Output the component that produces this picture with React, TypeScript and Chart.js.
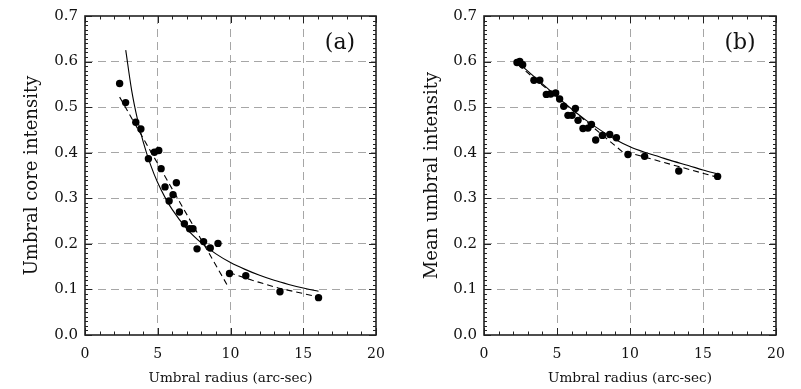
import React, { useEffect, useRef } from "react";
import { Chart, registerables } from "chart.js";

Chart.register(...registerables);

// ---------- axes ----------
const xTickValues = [0, 5, 10, 15, 20];
const yTickValues = [0, 0.1, 0.2, 0.3, 0.4, 0.5, 0.6, 0.7];
const xTitle = "Umbral radius (arc-sec)";
const yTitleA = "Umbral core intensity";
const yTitleB = "Mean umbral intensity";
const panelLabelA = "(a)";
const panelLabelB = "(b)";

// ---------- panel (a): umbral core intensity ----------
const radiusA = [2.38, 2.79, 3.49, 3.84, 4.36, 4.77, 5.07, 5.23, 5.5, 5.78, 6.05, 6.28, 6.49, 6.83, 7.19, 7.42, 7.7, 8.15, 8.61, 9.14, 9.93, 11.05, 13.4, 16.05];
const coreA = [0.552, 0.51, 0.467, 0.452, 0.387, 0.401, 0.405, 0.365, 0.325, 0.294, 0.308, 0.334, 0.27, 0.244, 0.233, 0.233, 0.189, 0.205, 0.191, 0.201, 0.135, 0.13, 0.095, 0.082];
const fitRadiusA = [2.8, 3.2, 3.6, 4, 4.5, 5, 5.5, 6, 7, 8, 9, 10, 11, 12, 13, 14, 15, 16.05];
const fitCoreA = [0.625, 0.538, 0.474, 0.424, 0.374, 0.334, 0.302, 0.275, 0.233, 0.202, 0.178, 0.159, 0.144, 0.131, 0.12, 0.111, 0.103, 0.096];
const dashInnerRadiusA = [2.38, 9.75];
const dashInnerCoreA = [0.522, 0.111];
const dashOuterRadiusA = [9.9, 11.5, 13.3, 16.1];
const dashOuterCoreA = [0.137, 0.12, 0.103, 0.083];

// ---------- panel (b): mean umbral intensity ----------
const radiusB = [2.26, 2.45, 2.65, 3.42, 3.82, 4.27, 4.57, 4.91, 5.18, 5.46, 5.75, 6.03, 6.26, 6.44, 6.78, 7.12, 7.36, 7.65, 8.11, 8.61, 9.07, 9.86, 11.0, 13.34, 16.0];
const meanB = [0.598, 0.6, 0.593, 0.559, 0.559, 0.528, 0.529, 0.531, 0.518, 0.502, 0.482, 0.482, 0.497, 0.471, 0.453, 0.454, 0.462, 0.428, 0.438, 0.44, 0.433, 0.396, 0.392, 0.36, 0.348];
const fitRadiusB = [2.15, 3, 4, 5, 6, 7, 8, 9, 10, 11, 12, 13, 14, 15, 16.05];
const fitMeanB = [0.603, 0.579, 0.551, 0.523, 0.496, 0.471, 0.449, 0.429, 0.413, 0.401, 0.391, 0.381, 0.372, 0.362, 0.353];
const dashInnerRadiusB = [2.33, 9.52];
const dashInnerMeanB = [0.593, 0.401];
const dashOuterRadiusB = [9.7, 16.0];
const dashOuterMeanB = [0.402, 0.346];

const FONT = '"DejaVu Serif", "Liberation Serif", serif';
const INK = "#111";
const GRID = "#a6a6a6";

const pts = (xs: number[], ys: number[]) => xs.map((x, i) => ({ x, y: ys[i] }));

const frameTicks = {
  id: "frameTicks",
  afterDraw(chart: any, _args: any, opts: any) {
    const { ctx, chartArea, scales } = chart;
    const { left, right, top, bottom } = chartArea;
    const xs = scales.x;
    const ys = scales.y;
    ctx.save();
    ctx.strokeStyle = "#222";
    ctx.lineWidth = 1;
    ctx.setLineDash([]);
    ctx.beginPath();
    for (let v = 0; v <= 20; v++) {
      const px = Math.round(xs.getPixelForValue(v)) + 0.5;
      const len = v % 5 === 0 ? 7 : 3.5;
      ctx.moveTo(px, bottom);
      ctx.lineTo(px, bottom - len);
      ctx.moveTo(px, top);
      ctx.lineTo(px, top + len);
    }
    for (let i = 0; i <= 70; i++) {
      const py = Math.round(ys.getPixelForValue(i / 100)) + 0.5;
      const len = i % 10 === 0 ? 7 : 3;
      ctx.moveTo(left, py);
      ctx.lineTo(left + len, py);
      ctx.moveTo(right, py);
      ctx.lineTo(right - len, py);
    }
    ctx.stroke();
    ctx.lineWidth = 1.6;
    ctx.strokeRect(left, top, right - left, bottom - top);
    ctx.fillStyle = INK;
    ctx.font = `22px ${FONT}`;
    ctx.textAlign = "center";
    ctx.textBaseline = "middle";
    ctx.fillText(opts.text, right - 36, top + 27);
    ctx.restore();
  },
};

type PanelProps = {
  left: number;
  width: number;
  axisWidth: number;
  padRight: number;
  yTitle: string;
  label: string;
  radius: number[];
  values: number[];
  fitR: number[];
  fitV: number[];
  dInR: number[];
  dInV: number[];
  dOutR: number[];
  dOutV: number[];
};

function Panel(p: PanelProps) {
  const ref = useRef<HTMLCanvasElement | null>(null);
  useEffect(() => {
    if (!ref.current) return;
    const chart = new Chart(ref.current, {
      type: "scatter",
      data: {
        datasets: [
          {
            data: pts(p.radius, p.values),
            pointRadius: 3.7,
            pointBackgroundColor: "#000",
            pointBorderWidth: 0,
            showLine: false,
          },
          {
            data: pts(p.fitR, p.fitV),
            showLine: true,
            pointRadius: 0,
            borderColor: "#000",
            borderWidth: 1.1,
            cubicInterpolationMode: "monotone",
          },
          {
            data: pts(p.dInR, p.dInV),
            showLine: true,
            pointRadius: 0,
            borderColor: "#000",
            borderWidth: 1.1,
            borderDash: [6, 4],
          },
          {
            data: pts(p.dOutR, p.dOutV),
            showLine: true,
            pointRadius: 0,
            borderColor: "#000",
            borderWidth: 1.1,
            borderDash: [6, 4],
          },
        ],
      } as any,
      options: {
        animation: false,
        responsive: false,
        maintainAspectRatio: false,
        layout: { padding: { top: 6, right: p.padRight, left: 0, bottom: 0 } },
        plugins: {
          legend: { display: false },
          tooltip: { enabled: false },
          frameTicks: { text: p.label },
        } as any,
        scales: {
          x: {
            type: "linear",
            min: 0,
            max: 20,
            afterBuildTicks: (s: any) => {
              s.ticks = xTickValues.map((value) => ({ value }));
            },
            afterFit: (s: any) => {
              s.height = 54;
            },
            grid: {
              drawTicks: false,
              lineWidth: 1,
              color: (c: any) =>
                c.tick && (c.tick.value <= 0 || c.tick.value >= 20) ? "rgba(0,0,0,0)" : GRID,
            },
            border: { display: false, dash: [8, 5] },
            ticks: {
              padding: 11,
              color: INK,
              font: { family: FONT, size: 14 },
              maxRotation: 0,
              autoSkip: false,
              callback: (v: any) => String(v),
            },
            title: {
              display: true,
              text: xTitle,
              color: INK,
              font: { family: FONT, size: 13.6 },
              padding: { top: 0, bottom: 2 },
            },
          },
          y: {
            type: "linear",
            min: 0,
            max: 0.7,
            afterBuildTicks: (s: any) => {
              s.ticks = yTickValues.map((value) => ({ value }));
            },
            afterFit: (s: any) => {
              s.width = p.axisWidth;
            },
            grid: {
              drawTicks: false,
              lineWidth: 1,
              color: (c: any) =>
                c.tick && (c.tick.value <= 0.001 || c.tick.value >= 0.699) ? "rgba(0,0,0,0)" : GRID,
            },
            border: { display: false, dash: [8, 5] },
            ticks: {
              padding: 7,
              color: INK,
              font: { family: FONT, size: 15 },
              autoSkip: false,
              callback: (v: any) => Number(v).toFixed(1),
            },
            title: {
              display: true,
              text: p.yTitle,
              color: INK,
              font: { family: FONT, size: 18 },
              padding: { top: 22, bottom: 0 },
            },
          },
        },
      } as any,
      plugins: [frameTicks],
    });
    return () => chart.destroy();
  }, []);
  return (
    <canvas
      ref={ref}
      width={p.width}
      height={389}
      style={{ position: "absolute", left: p.left, top: 0, width: p.width, height: 389 }}
    />
  );
}

export default function App() {
  return (
    <div style={{ position: "absolute", left: 0, top: 0, width: 801, height: 389, background: "#fff" }}>
      <Panel
        left={0}
        width={400}
        axisWidth={85}
        padRight={24}
        yTitle={yTitleA}
        label={panelLabelA}
        radius={radiusA}
        values={coreA}
        fitR={fitRadiusA}
        fitV={fitCoreA}
        dInR={dashInnerRadiusA}
        dInV={dashInnerCoreA}
        dOutR={dashOuterRadiusA}
        dOutV={dashOuterCoreA}
      />
      <Panel
        left={400}
        width={401}
        axisWidth={84}
        padRight={25}
        yTitle={yTitleB}
        label={panelLabelB}
        radius={radiusB}
        values={meanB}
        fitR={fitRadiusB}
        fitV={fitMeanB}
        dInR={dashInnerRadiusB}
        dInV={dashInnerMeanB}
        dOutR={dashOuterRadiusB}
        dOutV={dashOuterMeanB}
      />
    </div>
  );
}
